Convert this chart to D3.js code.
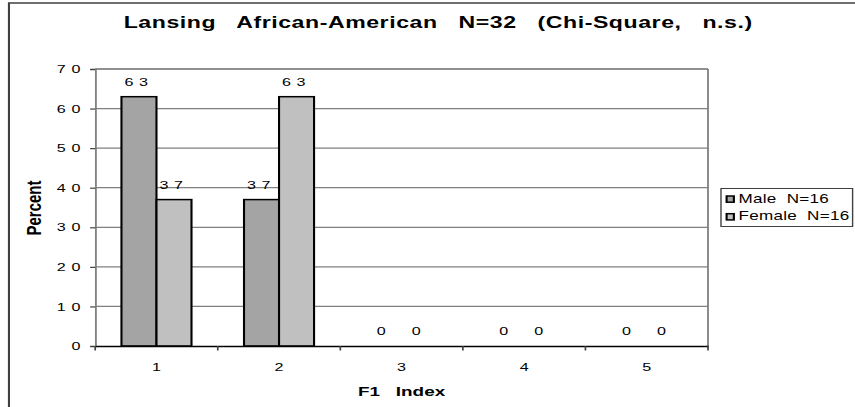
<!DOCTYPE html>
<html>
<head>
<meta charset="utf-8">
<script src="https://cdnjs.cloudflare.com/ajax/libs/d3/7.8.5/d3.min.js"></script>
<style>
  body { margin: 0; background: #fff; }
  svg { display: block; }
  text { font-family: "Liberation Sans", Arial, sans-serif; fill: #000; }
</style>
</head>
<body>
<div id="chart"></div>
<script>
var categories = ["1", "2", "3", "4", "5"],
    seriesNames = ["Male  N=16", "Female  N=16"],
    maleValues = [63, 37, 0, 0, 0],
    femaleValues = [37, 63, 0, 0, 0],
    yTicks = [0, 10, 20, 30, 40, 50, 60, 70],
    colors = ["#a4a4a4", "#c0c0c0"];

// the source picture is stretched sideways, so draw in a narrower box
// and let the viewBox widen everything (text included)
var width = 855,
    height = 407,
    k = 1.4,
    vbW = width / k;

var margin = { top: 69, left: 68, right: 105, bottom: 61 };

var plotW = vbW - margin.left - margin.right,
    plotH = height - margin.top - margin.bottom;

var svg = d3.select("#chart").append("svg")
    .attr("width", width)
    .attr("height", height)
    .attr("viewBox", "0 0 " + vbW + " " + height)
    .attr("preserveAspectRatio", "none");

// outer frame, runs off the bottom and right edge
svg.append("rect")
    .attr("x", 6.4).attr("y", 3)
    .attr("width", 1000).attr("height", 1000)
    .attr("fill", "none")
    .attr("stroke", "#404040")
    .attr("stroke-width", 1.5);

var x = d3.scaleBand()
    .domain(categories)
    .range([0, plotW]);

var x1 = d3.scaleBand()
    .domain([0, 1])
    .range([0, x.bandwidth()])
    .paddingOuter(0.75);

var y = d3.scaleLinear()
    .domain([0, 70])
    .range([plotH, 0]);

var g = svg.append("g")
    .attr("transform", "translate(" + margin.left + "," + margin.top + ")");

// gridlines
g.selectAll("line.grid")
    .data(yTicks.filter(function (d) { return d > 0; }))
    .enter().append("line")
    .attr("class", "grid")
    .attr("x1", 0).attr("x2", plotW)
    .attr("y1", function (d) { return y(d); })
    .attr("y2", function (d) { return y(d); })
    .attr("stroke", "#808080")
    .attr("stroke-width", 1.2);

// right border
g.append("line")
    .attr("x1", plotW).attr("x2", plotW)
    .attr("y1", 0).attr("y2", plotH)
    .attr("stroke", "#808080")
    .attr("stroke-width", 1.3);

// y axis
var yAxis = g.append("g")
    .call(d3.axisLeft(y).tickValues(yTicks).tickSize(3.6).tickPadding(3));
yAxis.select(".domain").attr("stroke", "#808080").attr("stroke-width", 1.3);
yAxis.selectAll(".tick line").attr("stroke", "#404040").attr("stroke-width", 1.2);
yAxis.selectAll(".tick text")
    .style("font-size", "11.5px")
    .style("letter-spacing", "4px");

// bars
var series = [maleValues, femaleValues];
var groups = g.selectAll("g.series")
    .data(series)
    .enter().append("g")
    .attr("class", "series");

groups.selectAll("rect")
    .data(function (vals, si) {
      return vals.map(function (v, i) { return { s: si, c: categories[i], v: v }; });
    })
    .enter().append("rect")
    .filter(function (d) { return d.v > 0; })
    .attr("x", function (d) { return x(d.c) + x1(d.s); })
    .attr("y", function (d) { return y(d.v); })
    .attr("width", x1.bandwidth())
    .attr("height", function (d) { return plotH - y(d.v); })
    .attr("fill", function (d) { return colors[d.s]; })
    .attr("stroke", "#000")
    .attr("stroke-width", 1.5);

// value labels
groups.selectAll("text")
    .data(function (vals, si) {
      return vals.map(function (v, i) { return { s: si, c: categories[i], v: v }; });
    })
    .enter().append("text")
    .attr("x", function (d) { return x(d.c) + x1(d.s) + x1.bandwidth() / 2; })
    .attr("y", function (d) { return y(d.v) - 10.5; })
    .attr("text-anchor", "middle")
    .style("font-size", "11.5px")
    .style("letter-spacing", "4px")
    .text(function (d) { return d.v; });

// x axis
var xAxis = g.append("g")
    .attr("transform", "translate(0," + plotH + ")")
    .call(d3.axisBottom(x).tickSize(0).tickPadding(17));
xAxis.select(".domain").attr("stroke", "#000").attr("stroke-width", 1.5);
xAxis.selectAll(".tick text").style("font-size", "11.5px");

g.selectAll("line.xtick")
    .data(categories.concat(["end"]))
    .enter().append("line")
    .attr("class", "xtick")
    .attr("x1", function (d, i) { return i * x.step(); })
    .attr("x2", function (d, i) { return i * x.step(); })
    .attr("y1", plotH).attr("y2", plotH + 4.5)
    .attr("stroke", "#404040")
    .attr("stroke-width", 1.2);

// top border
g.append("line")
    .attr("x1", 0).attr("x2", plotW)
    .attr("y1", 0).attr("y2", 0)
    .attr("stroke", "#808080")
    .attr("stroke-width", 1.3);

// title
svg.append("text")
    .attr("x", 313)
    .attr("y", 28.5)
    .attr("text-anchor", "middle")
    .style("font-size", "16.5px")
    .style("font-weight", "bold")
    .style("letter-spacing", "0.4px")
    .style("white-space", "pre")
    .text("Lansing   African-American   N=32   (Chi-Square,   n.s.)");

// axis titles
svg.append("text")
    .attr("x", margin.left + plotW / 2)
    .attr("y", 396)
    .attr("text-anchor", "middle")
    .style("font-size", "13.5px")
    .style("font-weight", "bold")
    .style("white-space", "pre")
    .text("F1   Index");

svg.append("text")
    .attr("transform", "translate(29.5,208) rotate(-90)")
    .attr("text-anchor", "middle")
    .style("font-size", "15px")
    .style("font-weight", "bold")
    .text("Percent");

// legend
var legend = svg.append("g")
    .attr("transform", "translate(515,188.5)");

legend.append("rect")
    .attr("width", 94).attr("height", 38)
    .attr("fill", "#fff")
    .attr("stroke", "#404040")
    .attr("stroke-width", 1);

var items = legend.selectAll("g.item")
    .data(seriesNames)
    .enter().append("g")
    .attr("class", "item")
    .attr("transform", function (d, i) { return "translate(4," + (7.5 + i * 17.7) + ")"; });

items.append("rect")
    .attr("width", 5.2).attr("height", 6.2)
    .attr("fill", function (d, i) { return colors[i]; })
    .attr("stroke", "#000")
    .attr("stroke-width", 1.5);

items.append("text")
    .attr("x", 8.5)
    .attr("y", 6.5)
    .style("font-size", "12.2px")
    .style("letter-spacing", "0.2px")
    .style("white-space", "pre")
    .text(function (d) { return d; });
</script>
</body>
</html>
